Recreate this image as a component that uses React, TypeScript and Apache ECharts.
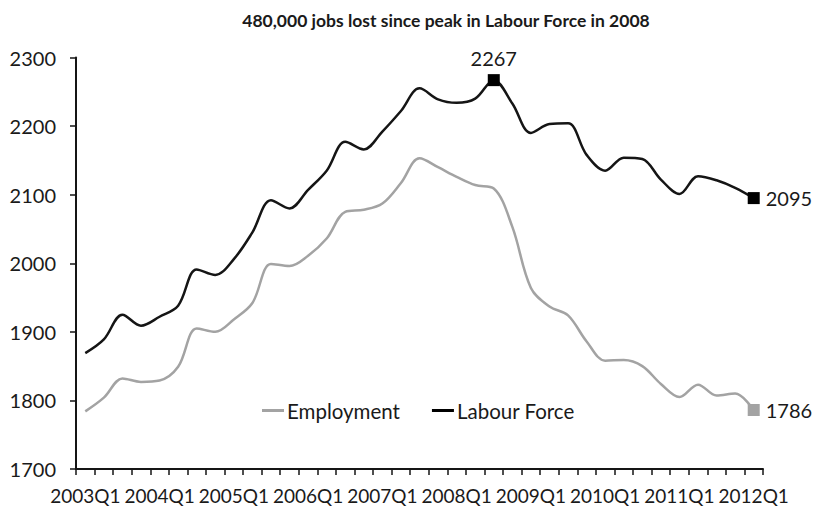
import React, { useEffect, useRef } from "react";
import * as echarts from "echarts";

const quarters = [
  "2003Q1","2003Q2","2003Q3","2003Q4",
  "2004Q1","2004Q2","2004Q3","2004Q4",
  "2005Q1","2005Q2","2005Q3","2005Q4",
  "2006Q1","2006Q2","2006Q3","2006Q4",
  "2007Q1","2007Q2","2007Q3","2007Q4",
  "2008Q1","2008Q2","2008Q3","2008Q4",
  "2009Q1","2009Q2","2009Q3","2009Q4",
  "2010Q1","2010Q2","2010Q3","2010Q4",
  "2011Q1","2011Q2","2011Q3","2011Q4",
  "2012Q1",
];

const labourForce = [
  1869, 1889, 1925, 1909, 1922, 1938, 1991, 1983, 2006, 2045, 2092, 2080,
  2107, 2135, 2177, 2166, 2192, 2222, 2255, 2239, 2234, 2240, 2267, 2233,
  2190, 2203, 2204, 2158, 2135, 2154, 2152, 2122, 2101, 2127, 2121, 2110,
  2095,
];

const employment = [
  1784, 1804, 1832, 1827, 1829, 1849, 1905, 1900, 1918, 1942, 1999, 1996,
  2011, 2036, 2075, 2078, 2087, 2117, 2153, 2140, 2126, 2114, 2109, 2053,
  1964, 1937, 1924, 1886, 1858, 1859, 1850, 1824, 1805, 1823, 1807, 1810,
  1786,
];

const peakIndex = 22;
const FONT = "Lato, 'Liberation Sans', sans-serif";
const TEXT = "#1a1a1a";
const BLACK = "#151515";
const GREY = "#a3a3a3";

export default function App() {
  const ref = useRef<HTMLDivElement>(null);
  useEffect(() => {
    if (!ref.current) return;
    const chart = echarts.init(ref.current, undefined, { renderer: "svg" });
    const last = quarters.length - 1;
    const lfData = labourForce.map((v, i) => {
      if (i === peakIndex) {
        return {
          value: v,
          symbol: "rect",
          symbolSize: 12,
          label: { show: true, position: "top", distance: 6 },
        };
      }
      if (i === last) {
        return {
          value: v,
          symbol: "rect",
          symbolSize: 12,
          label: { show: true, position: "right", distance: 6 },
        };
      }
      return { value: v, symbol: "none" };
    });
    const emData = employment.map((v, i) => {
      if (i === last) {
        return {
          value: v,
          symbol: "rect",
          symbolSize: 12,
          label: { show: true, position: "right", distance: 6 },
        };
      }
      return { value: v, symbol: "none" };
    });
    chart.setOption({
      animation: false,
      textStyle: { fontFamily: FONT },
      title: {
        text: "480,000 jobs lost since peak in Labour Force in 2008",
        left: 441,
        top: 6,
        textAlign: "center",
        textStyle: { fontFamily: FONT, fontSize: 17.5, fontWeight: "bold", color: TEXT },
      },
      legend: {
        left: 257,
        top: 395,
        itemWidth: 22,
        itemHeight: 3,
        itemGap: 32,
        icon: "rect",
        textStyle: { fontFamily: FONT, fontSize: 20.5, color: TEXT, padding: [0, 0, 0, -2] },
        data: ["Employment", "Labour Force"],
      },
      grid: { left: 76, right: 52, top: 57.5, bottom: 38 },
      xAxis: {
        type: "category",
        data: quarters,
        boundaryGap: true,
        axisLine: { lineStyle: { color: BLACK, width: 2 } },
        axisTick: { show: true, interval: 0, length: 6, lineStyle: { color: BLACK, width: 1.5 } },
        axisLabel: { interval: 3, fontFamily: FONT, fontSize: 19, color: TEXT, margin: 17 },
        splitLine: { show: false },
      },
      yAxis: {
        type: "value",
        min: 1700,
        max: 2300,
        interval: 100,
        axisLine: { show: true, lineStyle: { color: BLACK, width: 2 } },
        axisTick: { show: true, inside: false, length: 6, lineStyle: { color: BLACK, width: 1.5 } },
        axisLabel: {
          fontFamily: FONT,
          fontSize: 20,
          color: TEXT,
          margin: 20,
          formatter: (v: number) => String(v),
        },
        splitLine: { show: false },
      },
      series: [
        {
          name: "Employment",
          type: "line",
          data: emData,
          smooth: 0.35,
          showSymbol: true,
          symbol: "none",
          lineStyle: { color: GREY, width: 2.5 },
          itemStyle: { color: GREY },
          label: { fontFamily: FONT, fontSize: 20, color: TEXT },
          z: 2,
        },
        {
          name: "Labour Force",
          type: "line",
          data: lfData,
          smooth: 0.35,
          showSymbol: true,
          symbol: "none",
          lineStyle: { color: BLACK, width: 2.5 },
          itemStyle: { color: "#000" },
          label: { fontFamily: FONT, fontSize: 20, color: TEXT },
          z: 3,
        },
      ],
    });
    return () => chart.dispose();
  }, []);
  return (
    <div
      ref={ref}
      style={{ position: "fixed", left: 0, top: 0, width: 815, height: 507, background: "#fff" }}
    />
  );
}
